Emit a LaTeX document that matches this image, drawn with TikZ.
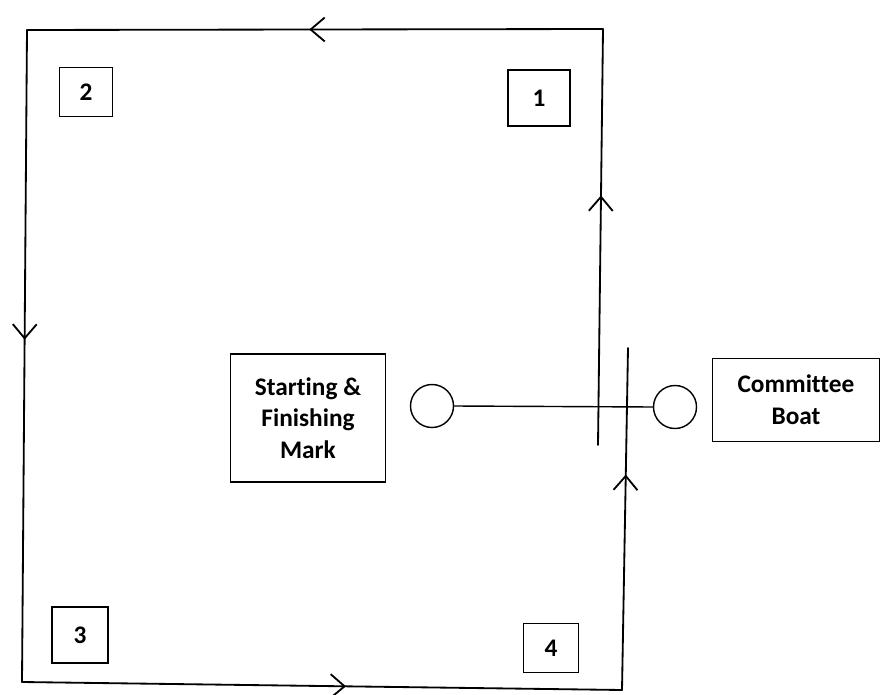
\documentclass[tikz,border=0pt]{standalone}
\usepackage{fontspec}
\setsansfont[Ligatures=NoCommon]{Carlito}
\usetikzlibrary{arrows.meta,decorations.markings}

\begin{document}
\begin{tikzpicture}[x=0.025cm,y=-0.025cm,font=\sffamily\bfseries\fontsize{18pt}{22.5pt}\selectfont,
  markbox/.style={draw,line width=1.2pt,inner sep=0pt,align=center},
  buoy/.style={draw,circle,line width=1pt,minimum size=10.75mm,inner sep=0pt},
  course/.style={line width=1.3pt,line cap=round,line join=round},
  flow/.style={postaction={decorate},decoration={markings,mark=at position #1 with {\arrow[line width=1.3pt]{Straight Barb[length=10pt,width=17pt]}}}}]
\useasboundingbox (0,0) rectangle (880,695);
\node[markbox,minimum width=13.3mm,minimum height=12.3mm] (m2) at (86,92) {2};
\node[markbox,minimum width=15.5mm,minimum height=14mm] (m1) at (539,98) {1};
\node[markbox,minimum width=14mm,minimum height=14mm] (m3) at (80,635) {3};
\node[markbox,minimum width=13.8mm,minimum height=12.3mm] (m4) at (551,648) {4};
\node[markbox,minimum width=38.8mm,minimum height=32mm] (sfbox) at (308,418) {Starting \&\\Finishing\\Mark};
\node[markbox,minimum width=41.8mm,minimum height=20.8mm] (cbbox) at (796,400) {Committee\\Boat};
\node[buoy] (sfm) at (432,406) {};
\node[buoy] (cb) at (675,407) {};
\draw[line width=1pt] (sfm.east)--(cb.west);
\coordinate (upend) at (598,445);
\coordinate (tr) at (603,29);
\coordinate (tl) at (27,30);
\coordinate (bl) at (22,682);
\coordinate (br) at (622,690);
\coordinate (lowend) at (628,348);
\draw[course,flow=0.6] (upend)--(tr);
\draw[course,flow=0.51] (tr)--(tl);
\draw[course,flow=0.475] (tl)--(bl);
\draw[course,flow=0.54] (bl)--(br);
\draw[course,flow=0.63] (br)--(lowend);
\end{tikzpicture}
\end{document}
